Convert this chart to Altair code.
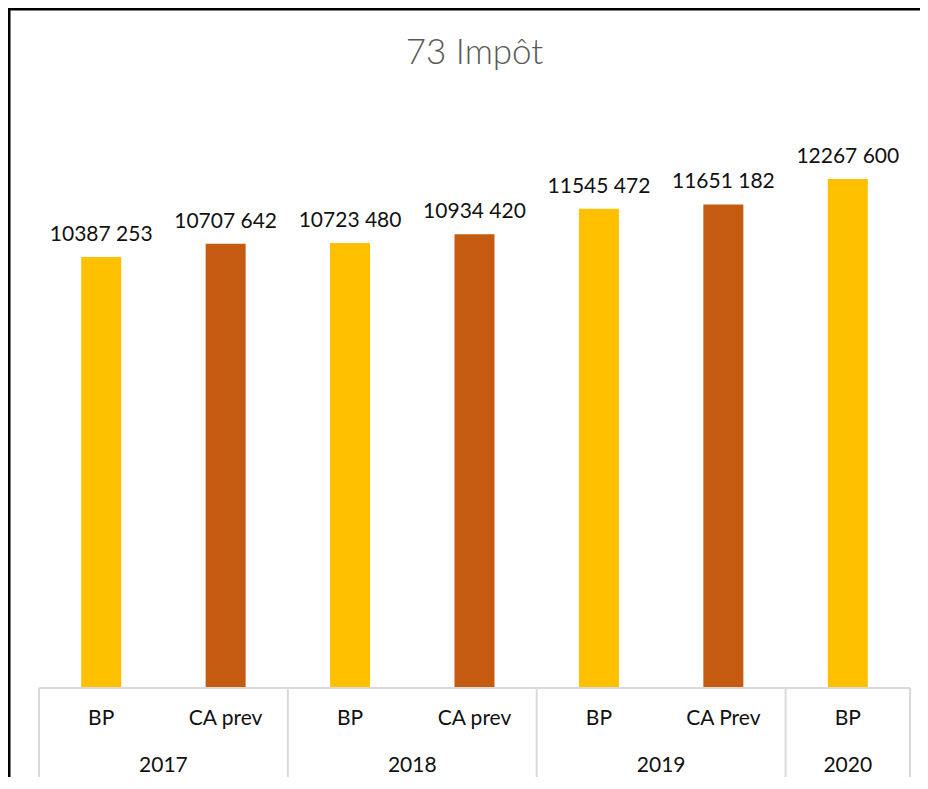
import altair as alt
import pandas as pd

# ---- data ----
years = ["2017", "2017", "2018", "2018", "2019", "2019", "2020"]
kinds = ["BP", "CA prev", "BP", "CA prev", "BP", "CA Prev", "BP"]
values = [10387253, 10707642, 10723480, 10934420, 11545472, 11651182, 12267600]
series = ["BP", "CA", "BP", "CA", "BP", "CA", "BP"]
year_labels = ["2017", "2018", "2019", "2020"]
year_first = [0, 2, 4, 6]
year_count = [2, 2, 2, 1]
group_bounds = [0, 2, 4, 6, 7]
title_text = "73 Impôt"

FONT = "Lato"
W, H = 871, 581
PAD = {"left": 31, "top": 99, "right": 10, "bottom": 89}

df = pd.DataFrame({
    "pos": [i + 0.5 for i in range(len(values))],
    "year": years,
    "kind": kinds,
    "series": series,
    "value": values,
    "label": [f"{v // 1000} {v % 1000:03d}" for v in values],
})
ydf = pd.DataFrame({
    "year": year_labels,
    "center": [f + c / 2 for f, c in zip(year_first, year_count)],
})
bdf = pd.DataFrame({"b": group_bounds})
basedf = pd.DataFrame({"x0": [0], "x1": [len(values)], "y0": [0], "t": [title_text]})

xscale = alt.Scale(domain=[0, len(values)], nice=False, zero=False, padding=0)
yscale = alt.Scale(domain=[0, 14000000], nice=False, padding=0)

base = alt.Chart(df)

bars = base.mark_bar(size=40).encode(
    x=alt.X("pos:Q", scale=xscale, axis=None),
    y=alt.Y("value:Q", scale=yscale, axis=None),
    color=alt.Color("series:N", scale=alt.Scale(domain=["BP", "CA"], range=["#FFC000", "#C55A11"]), legend=None),
)

labels = base.mark_text(baseline="bottom", dy=-12, font=FONT, fontSize=21, color="#111111").encode(
    x=alt.X("pos:Q", scale=xscale, axis=None),
    y=alt.Y("value:Q", scale=yscale, axis=None),
    text="label:N",
)

baseline = alt.Chart(basedf).mark_rule(color="#d9d9d9", strokeWidth=2).encode(
    x=alt.X("x0:Q", scale=xscale, axis=None),
    x2="x1:Q",
    y=alt.Y("y0:Q", scale=yscale, axis=None),
)

seps = alt.Chart(bdf).mark_rule(color="#d9d9d9", strokeWidth=2).encode(
    x=alt.X("b:Q", scale=xscale, axis=None),
    y=alt.value(H),
    y2=alt.value(H + 92),
)

sub = base.mark_text(baseline="middle", font=FONT, fontSize=21, color="#111111").encode(
    x=alt.X("pos:Q", scale=xscale, axis=None),
    y=alt.value(H + 31),
    text="kind:N",
)

yr = alt.Chart(ydf).mark_text(baseline="middle", font=FONT, fontSize=21, color="#111111").encode(
    x=alt.X("center:Q", scale=xscale, axis=None),
    y=alt.value(H + 78),
    text="year:N",
)

title = alt.Chart(basedf).mark_text(baseline="middle", align="center", font=FONT, fontSize=35, fontWeight=300, color="#595959").encode(
    x=alt.value(W / 2),
    y=alt.value(-54),
    text="t:N",
)

border_left = alt.Chart(basedf).mark_rule(color="#000000", strokeWidth=3).encode(
    x=alt.value(-PAD["left"] + 1),
    y=alt.value(-PAD["top"]),
    y2=alt.value(H + PAD["bottom"]),
)
border_top = alt.Chart(basedf).mark_rule(color="#000000", strokeWidth=3).encode(
    x=alt.value(-PAD["left"]),
    x2=alt.value(W + PAD["right"]),
    y=alt.value(-PAD["top"] + 1),
)

chart = alt.layer(bars, labels, baseline, seps, sub, yr, title, border_left, border_top).properties(
    width=W,
    height=H,
    padding=PAD,
    autosize=alt.AutoSizeParams(type="none"),
    background="white",
).configure_view(strokeWidth=0, stroke="transparent")

chart.save("out.html", embed_options={"renderer": "svg", "actions": False})
